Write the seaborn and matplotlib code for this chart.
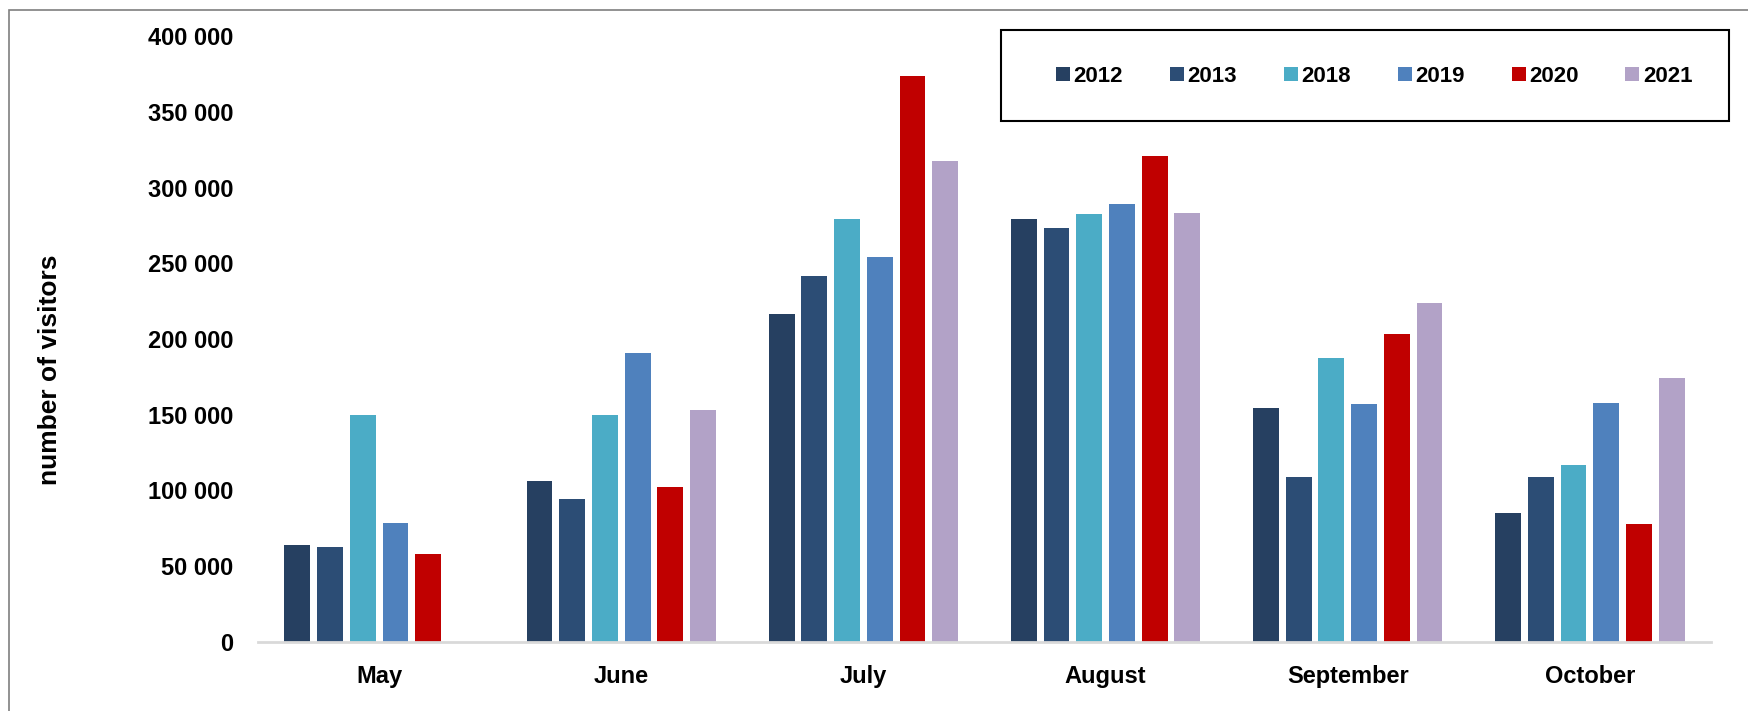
import numpy as np
import pandas as pd
import matplotlib
matplotlib.use("Agg")
import matplotlib.pyplot as plt
import seaborn as sns
from matplotlib.patches import Rectangle
from matplotlib.ticker import FuncFormatter

months = ["May", "June", "July", "August", "September", "October"]
years = ["2012", "2013", "2018", "2019", "2020", "2021"]
v2012 = [64000, 106000, 216500, 279500, 154500, 85000]
v2013 = [62500, 94000, 241500, 273500, 109000, 109000]
v2018 = [150000, 149500, 279500, 282500, 187500, 116500]
v2019 = [78500, 190500, 254500, 289500, 157000, 157500]
v2020 = [58000, 102500, 373500, 321000, 203000, 77500]
v2021 = [np.nan, 153000, 317500, 283000, 224000, 174000]
colors = ["#264061", "#2C4D75", "#4BACC6", "#4F81BD", "#C00000", "#B2A2C7"]

rows = []
for yr, vals in zip(years, [v2012, v2013, v2018, v2019, v2020, v2021]):
    for m, v in zip(months, vals):
        rows.append({"month": m, "year": yr, "visitors": v})
df = pd.DataFrame(rows)

sns.set_style("white")
plt.rcParams["font.family"] = ["Liberation Sans", "DejaVu Sans"]
plt.rcParams["font.weight"] = "bold"
plt.rcParams["text.color"] = "black"
plt.rcParams["xtick.color"] = "black"
plt.rcParams["ytick.color"] = "black"
plt.rcParams["axes.labelcolor"] = "black"

fig = plt.figure(figsize=(17.48, 7.11), dpi=100)
ax = fig.add_axes([258 / 1748, (711 - 641.7) / 711, (1711 - 258) / 1748, (641.7 - 36.3) / 711])

sns.barplot(data=df, x="month", y="visitors", hue="year", order=months, hue_order=years,
            palette=colors, saturation=1, errorbar=None, width=0.81, gap=0.21,
            linewidth=0, ax=ax)

ax.set_xlim(-0.5, 5.5)
ax.set_ylim(0, 400000)
ax.set_yticks(range(0, 400001, 50000))
ax.yaxis.set_major_formatter(FuncFormatter(lambda v, p: f"{int(v):,}".replace(",", " ")))
ax.tick_params(axis="both", length=0, labelsize=17, labelcolor="black")
ax.tick_params(axis="y", pad=18)
ax.tick_params(axis="x", pad=17)
for lab in ax.get_xticklabels() + ax.get_yticklabels():
    lab.set_fontweight("bold")

for s in ["top", "right", "left"]:
    ax.spines[s].set_visible(False)
ax.spines["bottom"].set_color("#D9D9D9")
ax.spines["bottom"].set_linewidth(2)

ax.set_xlabel("")
ax.set_ylabel("number of visitors", fontsize=19, fontweight="bold", color="black")
ax.yaxis.set_label_coords(-0.135, 0.449)

# legend in a box at the top right
handles, labels = ax.get_legend_handles_labels()
ax.get_legend().remove()
fig.legend(handles, labels, ncol=6, frameon=False, loc="center",
           bbox_to_anchor=(1374 / 1748, 634.5 / 711),
           prop={"weight": "bold", "size": 16},
           handlelength=0.63, handleheight=0.63, handletextpad=0.15, columnspacing=2.12)
fig.patches.append(Rectangle((1001 / 1748, (711 - 121) / 711), 727.5 / 1748, 91 / 711,
                             transform=fig.transFigure, fill=False, edgecolor="black", lw=1.5))
# outer chart frame
fig.patches.append(Rectangle((8.6 / 1748, -0.1), 1.2, (711 - 9.5) / 711 + 0.1,
                             transform=fig.transFigure, fill=False, edgecolor="#7F7F7F", lw=1.2))

fig.savefig("out.png", dpi=100)
